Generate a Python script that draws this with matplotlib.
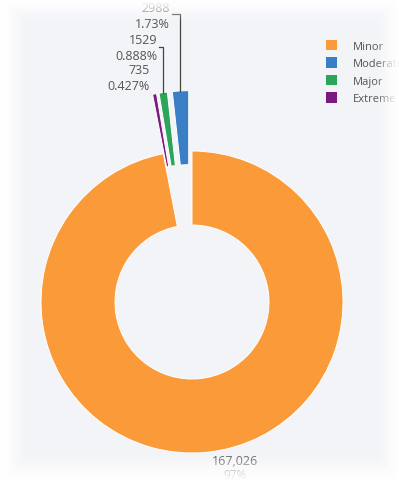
import numpy as np
import matplotlib.pyplot as plt
from matplotlib.patches import Patch

plt.rcParams['font.family'] = ['Open Sans', 'DejaVu Sans']

# data (legend order)
labels = ['Minor', 'Moderate', 'Major', 'Extreme']
counts = [167026, 2988, 1529, 735]
colors = ['#fb9a38', '#3a7ec6', '#2ca55a', '#7a1a80']
pull = [0, 0.4, 0.4, 0.4]

W, H = 399, 481
fig = plt.figure(figsize=(W / 100, H / 100), dpi=100)
fig.patch.set_facecolor('#f3f4f8')
ax = fig.add_axes([0, 0, 1, 1])

cx, cy, R = 192, H - 303, 151
total = sum(counts)

# drawing order: counterclockwise from 12 o'clock -> Moderate, Major, Extreme, Minor
order = [1, 2, 3, 0]
wedges, _ = ax.pie([counts[i] for i in order], colors=[colors[i] for i in order],
                   explode=[pull[i] * R for i in order], startangle=90, counterclock=True,
                   center=(cx, cy), radius=R, frame=True,
                   wedgeprops=dict(width=74, edgecolor='white', linewidth=0.7))
ax.set_xlim(0, W)
ax.set_ylim(0, H)
ax.axis('off')

# outside labels with leader lines for the pulled slices
txt_col = '#555555'
start = 90.0
info = {}
for i in order:
    ang = 360.0 * counts[i] / total
    mid = np.deg2rad(start + ang / 2)
    r_out = R * (1 + pull[i])
    info[i] = (cx + r_out * np.cos(mid), cy + r_out * np.sin(mid))
    start += ang

# (label top y, leader elbow y, text right x) in pixel rows from top
label_pos = {1: (8, 15, 170), 2: (40, 48, 157), 3: (71, None, 150)}
for i, (ty, ly, tx) in label_pos.items():
    pct = 100.0 * counts[i] / total
    ax.text(tx, H - ty, f'{counts[i]}', ha='right', va='center', fontsize=9, color=txt_col)
    ax.text(tx, H - ty - 16, f'{pct:.3g}%', ha='right', va='center', fontsize=9, color=txt_col)
    if ly is not None:
        x0, y0 = info[i]
        ax.plot([x0, x0, tx + 2], [y0, H - ly, H - ly], color='#444444', lw=0.9)

ax.text(235, H - 462, f'{counts[0]:,}', ha='center', va='center', fontsize=9, color=txt_col)
ax.text(235, H - 476, f'{100.0 * counts[0] / total:.0f}%', ha='center', va='center',
        fontsize=8.5, color=txt_col)

handles = [Patch(facecolor=c, edgecolor='none') for c in colors]
fig.legend(handles, labels, loc='upper left', bbox_to_anchor=(316 / W, 1 - 31 / H),
           frameon=False, fontsize=8, labelcolor='#555555', handlelength=0.95,
           handleheight=1.05, handletextpad=1.5, labelspacing=0.5)

# soft white frame around the screenshot
xx, yy = np.meshgrid(np.arange(W), np.arange(H))


def ramp(d, a, b):
    t = np.clip((d - a) / (b - a), 0, 1)
    return t * t * (3 - 2 * t)


alpha = np.maximum.reduce([ramp(xx, 30, 2), ramp(yy, 24, 0),
                           ramp(xx, 372, 399), ramp(yy, 450, 482)])
overlay = np.ones((H, W, 4))
overlay[..., 3] = alpha * 0.95
ov = fig.add_axes([0, 0, 1, 1], zorder=10)
ov.imshow(overlay, aspect='auto', interpolation='bilinear')
ov.axis('off')

fig.savefig('out.png', dpi=100, facecolor=fig.get_facecolor())
